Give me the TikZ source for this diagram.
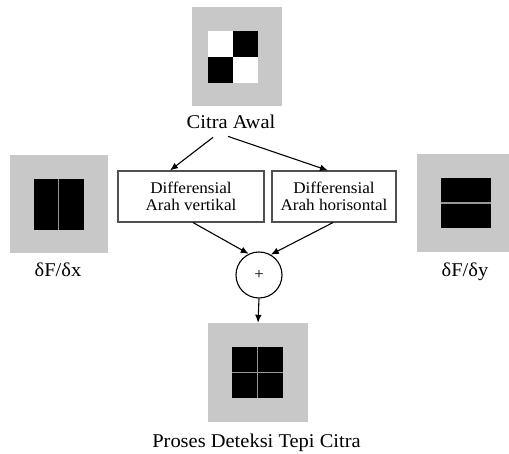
\documentclass[tikz,border=0pt]{standalone}
\usepackage{fontspec}
\setmainfont[FakeStretch=1.05]{Liberation Serif}
\usetikzlibrary{arrows.meta}
\definecolor{imgbg}{RGB}{200,200,200}
\definecolor{edge}{RGB}{80,80,80}
\definecolor{gapline}{RGB}{150,150,150}
\tikzset{
  imgframe/.style={fill=imgbg, inner sep=0pt},
  caption/.style={font=\fontsize{19.5}{21}\selectfont, inner sep=0pt, anchor=base},
  opbox/.style={draw=edge, line width=1.1pt, minimum height=51pt, align=center,
    inner sep=0pt, font=\fontsize{16.3}{17.5}\selectfont},
  divider/.style={draw=gapline, line width=1.3pt},
  link/.style={-{Latex[length=8pt,width=6.5pt]}, line width=1.1pt}
}

\begin{document}
\begin{tikzpicture}[x=1pt,y=-1pt]
\useasboundingbox (0,0) rectangle (509,454);

% Citra Awal
\node [imgframe,
	minimum width=90pt,
	minimum height=99pt
]  (awalimg) at (237,56.5) {};
\fill[white] (208,31) rectangle (258,83);
\fill[black] (233,31) rectangle (258,57);
\fill[black] (208,57) rectangle (233,83);
\node [caption] (awal) at (231,129) {Citra Awal};

% Differensial vertikal
\node [opbox,
	minimum width=146pt
]  (vert) at (191,196.5) {Differensial\\Arah vertikal};

% Differensial horisontal
\node [opbox,
	minimum width=124pt
]  (hor) at (334,196.5) {Differensial\\Arah horisontal};

% dF/dx
\node [imgframe,
	minimum size=98pt
]  (dximg) at (59,204) {};
\fill (34,179) rectangle (84,230);
\draw[divider] (58.5,179) -- (58.5,230);
\node [caption] (dx) at (58,277) {δF/δx};

% dF/dy
\node [imgframe,
	minimum width=92pt,
	minimum height=98pt
]  (dyimg) at (463,203) {};
\fill (441,178) rectangle (491,228);
\draw[divider] (441,203) -- (491,203);
\node [caption] (dy) at (465,277) {δF/δy};

% Penjumlahan
\node [draw,
	circle,
	minimum size=46pt,
	inner sep=0pt,
	line width=1.1pt,
	font=\fontsize{16}{16}\selectfont
]  (plus) at (259,275) {+};

% Proses Deteksi Tepi Citra
\node [imgframe,
	minimum width=100pt,
	minimum height=99pt
]  (result) at (258,372.5) {};
\fill (232,347) rectangle (283,398);
\draw[divider] (257.5,347) -- (257.5,398) (232,372.5) -- (283,372.5);
\node [caption] (proses) at (256.5,447) {Proses Deteksi Tepi Citra};

% Arrows
\draw[link] ([xshift=-18pt,yshift=-8pt]awal.south) -- ([xshift=-21pt]vert.north);
\draw[link] ([xshift=-3pt,yshift=-7pt]awal.south) -- ([xshift=-6pt]hor.north);
\draw[link] ([xshift=2pt]vert.south) -- (plus.116);
\draw[link] ([xshift=-1pt]hor.south) -- (plus.60);
\draw[link] (plus.south) -- (result.north);

\end{tikzpicture}
\end{document}
